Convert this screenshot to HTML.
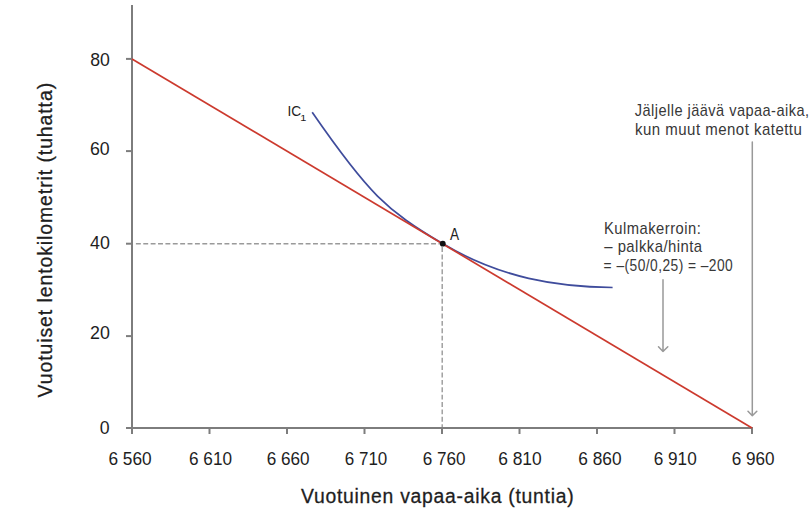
<!DOCTYPE html>
<html><head><meta charset="utf-8"><style>
html,body{margin:0;padding:0;background:#fff;width:810px;height:511px;overflow:hidden}
svg{display:block}
text{font-family:"Liberation Sans",sans-serif}
</style></head><body>
<svg width="810" height="511" viewBox="0 0 810 511">
<rect width="810" height="511" fill="#fff"/>
<g stroke="#9a9a9a" stroke-width="1.4" stroke-dasharray="4.9 2.48" fill="none">
<line x1="135.9" y1="243.8" x2="441" y2="243.8"/>
<line x1="442.2" y1="247.1" x2="442.2" y2="428"/>
</g>
<g stroke="#7d7d7d" stroke-width="2" fill="none">
<line x1="132" y1="5" x2="132" y2="429.0"/>
<line x1="126" y1="428" x2="753" y2="428"/>
<line x1="126.00" y1="58.90" x2="132.00" y2="58.90"/>
<line x1="126.00" y1="151.10" x2="132.00" y2="151.10"/>
<line x1="126.00" y1="243.70" x2="132.00" y2="243.70"/>
<line x1="126.00" y1="336.10" x2="132.00" y2="336.10"/>
<line x1="126.00" y1="428.00" x2="132.00" y2="428.00"/>
<line x1="132.00" y1="428.00" x2="132.00" y2="434.00"/>
<line x1="209.50" y1="428.00" x2="209.50" y2="434.00"/>
<line x1="287.00" y1="428.00" x2="287.00" y2="434.00"/>
<line x1="364.50" y1="428.00" x2="364.50" y2="434.00"/>
<line x1="442.00" y1="428.00" x2="442.00" y2="434.00"/>
<line x1="519.50" y1="428.00" x2="519.50" y2="434.00"/>
<line x1="597.00" y1="428.00" x2="597.00" y2="434.00"/>
<line x1="674.50" y1="428.00" x2="674.50" y2="434.00"/>
<line x1="752.00" y1="428.00" x2="752.00" y2="434.00"/>
</g>
<g stroke="#999" stroke-width="1.5" fill="none" stroke-linecap="round" stroke-linejoin="round">
<path d='M752.3 142 V415.8 M748 411.2 L752.3 415.8 L756.8 411.2'/><path d='M663 279.7 V351.5 M658.5 346.7 L663 351.5 L667.8 346.7'/>
</g>
<path d="M312.20,112.30 C368.66,193.96 386.36,210.19 442.50,243.60 C500.86,278.34 557.20,286.80 612.60,287.50" fill="none" stroke="#3f4c9c" stroke-width="1.7"/>
<line x1="132" y1="59" x2="752" y2="428" stroke="#cc3a2e" stroke-width="1.7"/>
<circle cx="442.8" cy="243.7" r="2.9" fill="#111"/>
<text transform="translate(90.19,65.70) scale(0.9817,1)" font-size="18.00" fill="#1e1e1e">80</text>
<text transform="translate(90.01,154.80) scale(0.9858,1)" font-size="18.00" fill="#1e1e1e">60</text>
<text transform="translate(90.04,248.80) scale(0.9894,1)" font-size="18.00" fill="#1e1e1e">40</text>
<text transform="translate(90.01,338.70) scale(0.9913,1)" font-size="18.00" fill="#1e1e1e">20</text>
<text transform="translate(99.69,433.60) scale(0.9838,1)" font-size="18.00" fill="#1e1e1e">0</text>
<text transform="translate(108.43,464.80) scale(0.9613,1)" font-size="18.00" fill="#1e1e1e">6 560</text>
<text transform="translate(189.04,464.80) scale(0.9544,1)" font-size="18.00" fill="#1e1e1e">6 610</text>
<text transform="translate(266.74,464.80) scale(0.9521,1)" font-size="18.00" fill="#1e1e1e">6 660</text>
<text transform="translate(344.75,464.80) scale(0.9451,1)" font-size="18.00" fill="#1e1e1e">6 710</text>
<text transform="translate(422.64,464.80) scale(0.9521,1)" font-size="18.00" fill="#1e1e1e">6 760</text>
<text transform="translate(498.13,464.80) scale(0.9682,1)" font-size="18.00" fill="#1e1e1e">6 810</text>
<text transform="translate(578.23,464.80) scale(0.9613,1)" font-size="18.00" fill="#1e1e1e">6 860</text>
<text transform="translate(653.74,464.80) scale(0.9544,1)" font-size="18.00" fill="#1e1e1e">6 910</text>
<text transform="translate(731.74,464.80) scale(0.9521,1)" font-size="18.00" fill="#1e1e1e">6 960</text>
<text transform="translate(301.01,503.30) scale(0.9214,1)" font-size="21.00" fill="#1e1e1e" stroke="#1e1e1e" stroke-width="0.3" letter-spacing="0.80">Vuotuinen vapaa-aika (tuntia)</text>
<text transform="translate(51.70,397.39) rotate(-90) scale(0.9370,1)" font-size="20.70" fill="#1e1e1e" stroke="#1e1e1e" stroke-width="0.3" letter-spacing="1.00">Vuotuiset lentokilometrit (tuhatta)</text>
<text transform="translate(287.41,116.15) scale(0.8978,1)" font-size="15.30" fill="#222">IC</text>
<text transform="translate(300.23,121.00) scale(1.1386,1)" font-size="9.60" fill="#222">1</text>
<text transform="translate(450.07,239.85) scale(0.8576,1)" font-size="15.90" fill="#222">A</text>
<text transform="translate(634.79,116.20) scale(0.9224,1)" font-size="15.80" fill="#383838" letter-spacing="0.50">Jäljelle jäävä vapaa-aika,</text>
<text transform="translate(634.98,134.70) scale(0.9508,1)" font-size="15.80" fill="#383838" letter-spacing="0.50">kun muut menot katettu</text>
<text transform="translate(603.99,233.50) scale(0.9358,1)" font-size="15.80" fill="#383838" letter-spacing="0.50">Kulmakerroin:</text>
<text transform="translate(604.30,252.00) scale(0.9415,1)" font-size="15.80" fill="#383838" letter-spacing="0.50">– palkka/hinta</text>
<text transform="translate(603.61,270.50) scale(0.8742,1)" font-size="15.80" fill="#383838" letter-spacing="0.50">= –(50/0,25) = –200</text>
</svg>
</body></html>
